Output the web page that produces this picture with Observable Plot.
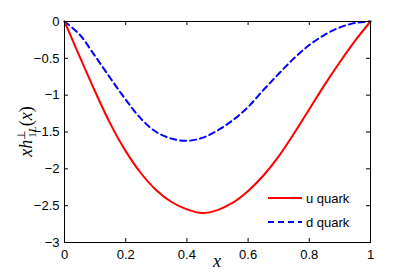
<!DOCTYPE html>
<html><head><meta charset="utf-8">
<script src="https://cdn.jsdelivr.net/npm/d3@7"></script>
<script src="https://cdn.jsdelivr.net/npm/@observablehq/plot@0.6"></script>
<style>
html,body{margin:0;padding:0;background:#fff;}
#chart{width:409px;height:273px;}
</style></head>
<body><div id="chart"></div>
<script>
const xs = [0, 0.05, 0.1, 0.15, 0.2, 0.25, 0.3, 0.35, 0.4, 0.45, 0.5, 0.55, 0.6, 0.65, 0.7, 0.75, 0.8, 0.85, 0.9, 0.95, 1.0];
const uQuark = [0, -0.48, -0.95, -1.39, -1.76, -2.06, -2.29, -2.45, -2.55, -2.60, -2.56, -2.46, -2.30, -2.09, -1.83, -1.52, -1.19, -0.86, -0.55, -0.26, 0];
const dQuark = [0, -0.18, -0.47, -0.77, -1.06, -1.32, -1.50, -1.59, -1.62, -1.58, -1.48, -1.34, -1.16, -0.93, -0.71, -0.50, -0.32, -0.18, -0.08, -0.02, 0];
const xTicks = [0, 0.2, 0.4, 0.6, 0.8, 1];
const yTicks = [0, -0.5, -1, -1.5, -2, -2.5, -3];
const seriesNames = ["u quark", "d quark"];

const W = 409, H = 273, mL = 64, mR = 39, mT = 21, mB = 31;
const pw = W - mL - mR, ph = H - mT - mB;
const uData = xs.map((x, i) => ({x, y: uQuark[i]}));
const dData = xs.map((x, i) => ({x, y: dQuark[i]}));
const fmtTick = d => d3.format("")(d).replace("-", "\u2212");

const plot = Plot.plot({
  width: W, height: H,
  marginLeft: mL, marginRight: mR, marginTop: mT, marginBottom: mB,
  style: {fontFamily: "'Liberation Sans', Arial, sans-serif", fontSize: "13px", background: "white", color: "black"},
  x: {domain: [0, 1]},
  y: {domain: [-3, 0]},
  marks: [
    Plot.axisX(xTicks, {tickSize: 0, tickPadding: 7, tickFormat: fmtTick, label: null, fontSize: 13}),
    Plot.axisY(yTicks, {tickSize: 0, tickPadding: 5, tickFormat: fmtTick, label: null, fontSize: 13}),
    Plot.tickX(xTicks, {x: d => d, insetTop: ph - 4, stroke: "black", strokeWidth: 1}),
    Plot.tickX(xTicks, {x: d => d, insetBottom: ph - 4, stroke: "black", strokeWidth: 1}),
    Plot.tickY(yTicks, {y: d => d, insetRight: pw - 4, stroke: "black", strokeWidth: 1}),
    Plot.tickY(yTicks, {y: d => d, insetLeft: pw - 4, stroke: "black", strokeWidth: 1}),
    Plot.line(dData, {x: "x", y: "y", stroke: "#0000ff", strokeWidth: 2, strokeDasharray: "6,4", curve: "catmull-rom"}),
    Plot.line(uData, {x: "x", y: "y", stroke: "#ff0000", strokeWidth: 2, curve: "catmull-rom"}),
    Plot.frame({stroke: "black", strokeWidth: 1})
  ]
});
document.getElementById("chart").appendChild(plot);

const svg = d3.select(plot);
// x label
svg.append("text").attr("x", mL + pw / 2).attr("y", 267)
  .attr("text-anchor", "middle")
  .style("font-family", "'Liberation Serif', 'Times New Roman', serif")
  .style("font-style", "italic").style("font-size", "18px")
  .text("x");
// y label: x h_{1L}^{⊥}(x)
const yl = svg.append("text")
  .attr("transform", `translate(32,${mT + ph / 2}) rotate(-90)`)
  .attr("text-anchor", "middle")
  .style("font-family", "'Liberation Serif', 'Times New Roman', serif")
  .style("font-size", "18px");
yl.append("tspan").style("font-style", "italic").text("xh");
yl.append("tspan").attr("dy", -7).style("font-size", "11px").text("\u22A5");
yl.append("tspan").attr("dx", -8).attr("dy", 11).style("font-size", "11px").text("1");
yl.append("tspan").style("font-size", "11px").style("font-style", "italic").text("L");
yl.append("tspan").attr("dy", -4).text("(");
yl.append("tspan").style("font-style", "italic").text("x");
yl.append("tspan").text(")");

// legend
const leg = [
  {name: seriesNames[0], color: "#ff0000", dash: null, y: 198},
  {name: seriesNames[1], color: "#0000ff", dash: "6,4", y: 222}
];
leg.forEach(l => {
  svg.append("line").attr("x1", 268).attr("x2", 302).attr("y1", l.y).attr("y2", l.y)
    .attr("stroke", l.color).attr("stroke-width", 2).attr("stroke-dasharray", l.dash);
  svg.append("text").attr("x", 306).attr("y", l.y).attr("dy", "0.35em")
    .attr("text-anchor", "start")
    .style("font-family", "'Liberation Sans', Arial, sans-serif").style("font-size", "13px")
    .text(l.name);
});
</script>
</body></html>
